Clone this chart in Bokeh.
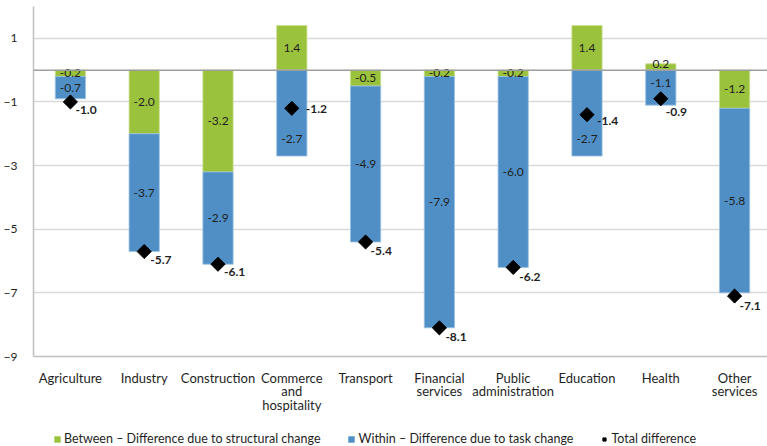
import numpy as np
from bokeh.plotting import figure
from bokeh.layouts import column
from bokeh.models import (ColumnDataSource, FixedTicker, Range1d, Span, Legend, LegendItem)
from bokeh.core.properties import value
from bokeh.embed import file_html
from bokeh.resources import INLINE

# Sectors and decomposition of the difference (percentage points)
categories = ["Agriculture", "Industry", "Construction", "Commerce\nand\nhospitality",
              "Transport", "Financial\nservices", "Public\nadministration",
              "Education", "Health", "Other\nservices"]
between = [-0.2, -2.0, -3.2, 1.4, -0.5, -0.2, -0.2, 1.4, 0.2, -1.2]
within = [-0.7, -3.7, -2.9, -2.7, -4.9, -7.9, -6.0, -2.7, -1.1, -5.8]
total = [-1.0, -5.7, -6.1, -1.2, -5.4, -8.1, -6.2, -1.4, -0.9, -7.1]
y_ticks = [1, -1, -3, -5, -7, -9]
series_names = ["Between \u2013 Difference due to structural change",
                "Within \u2013 Difference due to task change",
                "Total difference"]

# label offsets (px) for the total-difference labels
total_dx = [5, 6, 6, 14, 5, 6, 6, 10, 5, 5]
total_dy = [8, 8, 8, 1, 9, 9, 10, 6, 13, 10]
# vertical nudges (px) for segment labels that would collide with other marks
within_dy = [0, 0, 0, 26, 0, 0, 0, 26, -5, 0]
between_dy = [0, 0, 0, 0, 0, 0, 0, 0, -3, 0]

GREEN = "#9BC23C"
BLUE = "#4F8FC6"
FONT = "Lato"
TXT = "#1f1f1f"

x = np.arange(len(categories), dtype=float)
b = np.array(between)
w = np.array(within)
base = np.minimum(b, 0.0)

green_src = ColumnDataSource(dict(x=x, top=np.maximum(b, 0.0), bottom=np.minimum(b, 0.0),
                                  ly=b / 2, dy=between_dy, lab=[f"{v:.1f}" for v in between]))
blue_src = ColumnDataSource(dict(x=x, top=base, bottom=base + w, ly=base + w / 2,
                                 dy=within_dy, lab=[f"{v:.1f}" for v in within]))
tot_src = ColumnDataSource(dict(x=x, y=total, lab=[f"{v:.1f}" for v in total],
                                dx=total_dx, dy=total_dy))

p = figure(width=767, height=418, output_backend="svg", toolbar_location=None,
           x_range=Range1d(-0.5, 9.446), y_range=Range1d(-9, 2),
           min_border_left=33, min_border_right=0, min_border_top=6, min_border_bottom=62)
p.outline_line_color = None
p.background_fill_color = "white"
p.border_fill_color = "white"

# gridlines and zero line
p.xgrid.visible = False
p.ygrid.ticker = FixedTicker(ticks=y_ticks)
p.ygrid.grid_line_color = "#D9D9D9"
p.ygrid.grid_line_width = 1.5
p.add_layout(Span(location=0, dimension="width", line_color="#9E9E9E", line_width=1.5))

bw = 0.41
p.vbar(x="x", top="top", bottom="bottom", width=bw, source=green_src,
       fill_color=GREEN, line_color="#C9E08F", line_width=0.8)
p.vbar(x="x", top="top", bottom="bottom", width=bw, source=blue_src,
       fill_color=BLUE, line_color="#9CC3E4", line_width=0.8)

p.text(x="x", y="ly", text="lab", source=green_src, y_offset="dy", text_align="center",
       text_baseline="middle", text_font=value(FONT), text_font_size="12px", text_color=TXT)
p.text(x="x", y="ly", text="lab", source=blue_src, y_offset="dy", text_align="center",
       text_baseline="middle", text_font=value(FONT), text_font_size="12px", text_color=TXT)

p.scatter(x="x", y="y", source=tot_src, marker="square", angle=np.pi / 4,
          size=10, fill_color="black", line_color="black")
p.text(x="x", y="y", text="lab", source=tot_src, x_offset="dx", y_offset="dy",
       text_align="left", text_baseline="middle", text_font=value(FONT),
       text_font_size="12px", text_font_style="bold", text_color=TXT)

# axes
p.yaxis.ticker = FixedTicker(ticks=y_ticks)
p.yaxis.major_tick_line_color = None
p.yaxis.minor_tick_line_color = None
p.yaxis.axis_line_color = "#BFBFBF"
p.yaxis.axis_line_width = 1.5
p.yaxis.major_label_standoff = 10
p.yaxis.major_label_text_font = FONT
p.yaxis.major_label_text_font_size = "12px"
p.yaxis.major_label_text_color = TXT

p.xaxis.ticker = FixedTicker(ticks=list(x))
p.xaxis.major_label_overrides = {float(i): c for i, c in enumerate(categories)}
p.xaxis.major_tick_line_color = None
p.xaxis.minor_tick_line_color = None
p.xaxis.axis_line_color = "#BFBFBF"
p.xaxis.axis_line_width = 1.5
p.xaxis.major_label_standoff = 7
p.xaxis.major_label_text_font = FONT
p.xaxis.major_label_text_font_size = "13px"
p.xaxis.major_label_text_color = TXT
p.xaxis.major_label_text_line_height = 0.87

# legend strip underneath the chart; its sample glyphs sit outside the visible range
lg = figure(width=767, height=28, output_backend="svg", toolbar_location=None,
            x_range=Range1d(0, 1), y_range=Range1d(0, 1),
            min_border=0, min_border_top=14, x_axis_type=None, y_axis_type=None)
lg.outline_line_color = None
lg.grid.visible = False
off = dict(x=[-5.0], y=[-5.0], top=[-5.0], bottom=[-6.0])
lg_g = lg.vbar(x="x", top="top", bottom="bottom", width=1, source=ColumnDataSource(off),
               fill_color=GREEN, line_color=None)
lg_b = lg.vbar(x="x", top="top", bottom="bottom", width=1, source=ColumnDataSource(off),
               fill_color=BLUE, line_color=None)
lg_d = lg.scatter(x="x", y="y", source=ColumnDataSource(off), marker="square",
                  angle=np.pi / 4, size=8, fill_color="black", line_color="black")

legend = Legend(items=[
    LegendItem(label=series_names[0], renderers=[lg_g]),
    LegendItem(label=series_names[1], renderers=[lg_b]),
    LegendItem(label=series_names[2], renderers=[lg_d]),
], orientation="horizontal", location=(20, 0), border_line_color=None,
    label_text_font=FONT, label_text_font_size="12.5px", label_text_color=TXT,
    glyph_width=8, glyph_height=8, label_standoff=3, spacing=27,
    padding=0, margin=0, background_fill_alpha=0)
lg.add_layout(legend, "center")

open("out.html", "w").write(file_html(column(p, lg, spacing=0), INLINE))
